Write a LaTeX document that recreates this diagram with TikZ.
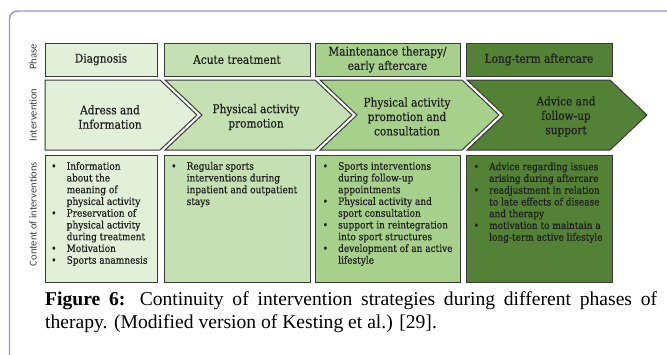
\documentclass[tikz,border=0pt]{standalone}
\usepackage{fontspec}
\setmainfont{Liberation Serif}
\newfontfamily\boxfont{DejaVu Serif}[FakeStretch=0.88,FakeBold=0.4]
\newfontfamily\sidefont{Carlito}
\definecolor{gA}{HTML}{E2EFD9}
\definecolor{gB}{HTML}{C5E0B3}
\definecolor{gC}{HTML}{A8D08D}
\definecolor{gD}{HTML}{538135}
\definecolor{frameC}{HTML}{9A96C4}
\definecolor{edgeC}{HTML}{3A3A3A}
\newcommand{\bul}{\makebox[15.5pt][l]{•}}
\newcommand{\ind}{\hspace*{15.5pt}}
\newcommand{\fl}{\rule{0pt}{8pt}}
\begin{document}
\begin{tikzpicture}[x=1pt,y=-1pt,
  phasebox/.style={draw=edgeC, line width=0.8pt, minimum width=#1, minimum height=33pt, inner sep=0pt,
    font=\boxfont\fontsize{12}{14.4}\selectfont, align=center, text=black!88},
  contbox/.style={draw=edgeC, line width=0.8pt, minimum width=#1, minimum height=127pt, inner sep=0pt},
  chev/.style={draw=edgeC, line width=1pt, line join=miter},
  chevtext/.style={font=\boxfont\fontsize{12}{14.4}\selectfont, align=center, text=black!88, inner sep=0pt},
  ctext/.style={font=\boxfont\fontsize{10.2}{11.75}\selectfont, align=left, anchor=north west, inner sep=0pt, text=black!88},
  sidelab/.style={font=\sidefont\fontsize{10.5}{12}\selectfont, rotate=90, text=black!75, inner sep=0pt},
  capline/.style={font=\fontsize{19.6}{23}\selectfont, anchor=base west, inner sep=0pt},
]
\useasboundingbox (0,0) rectangle (667,354);
% frame
\draw[frameC, line width=1.4pt, rounded corners=8pt] (668,11) -- (9.5,11) -- (9.5,356);

% side labels
\node[sidelab] (lphase) at (33,57) {Phase};
\node[sidelab] (linter) at (33,115) {Intervention};
\node[sidelab] (lcont) at (33,214) {Content of interventions};

% phase boxes
\node[phasebox=112pt, fill=gA] (p1) at (101,59.5) {Diagnosis};
\node[phasebox=146pt, fill=gB] (p2) at (237,59.5) {Acute treatment};
\node[phasebox=145pt, fill=gC] (p3) at (387.5,59.5) {Maintenance therapy/\\early aftercare};
\node[phasebox=146pt, fill=gD] (p4) at (539,59.5) {Long-term aftercare};

% chevrons
\draw[chev, fill=gA] (45,80) -- (160,80) -- (197,115) -- (160,150) -- (45,150) -- cycle;
\draw[chev, fill=gB] (165,80) -- (315,80) -- (352,115) -- (315,150) -- (165,150) -- (202,115) -- cycle;
\draw[chev, fill=gC] (320,80) -- (462,80) -- (499,115) -- (462,150) -- (320,150) -- (357,115) -- cycle;
\draw[chev, fill=gD] (467,80) -- (610,80) -- (647,115) -- (610,150) -- (467,150) -- (504,115) -- cycle;
\node[chevtext] (c1) at (110,117) {Adress and\\Information};
\node[chevtext] (c2) at (256,117) {Physical activity\\promotion};
\node[chevtext] (c3) at (407,116.5) {Physical activity\\promotion and\\consultation};
\node[chevtext] (c4) at (566,116.5) {Advice and\\follow-up\\support};

% content boxes
\node[contbox=112pt, fill=gA] (b1) at (101,218.5) {};
\node[contbox=146pt, fill=gB] (b2) at (237,218.5) {};
\node[contbox=145pt, fill=gC] (b3) at (387.5,218.5) {};
\node[contbox=146pt, fill=gD] (b4) at (539,218.5) {};

\node[ctext] (t1) at (51,161.5) {\fl\bul Information\\\ind about the\\\ind meaning of\\\ind physical activity\\\bul Preservation of\\\ind physical activity\\\ind during treatment\\\bul Motivation\\\bul Sports anamnesis};
\node[ctext] (t2) at (171,161.5) {\fl\bul Regular sports\\\ind interventions during\\\ind inpatient and outpatient\\\ind stays};
\node[ctext] (t3) at (322.5,161.5) {\fl\bul Sports interventions\\\ind during follow-up\\\ind appointments\\\bul Physical activity and\\\ind sport consultation\\\bul support in reintegration\\\ind into sport structures\\\bul development of an active\\\ind lifestyle};
\node[ctext] (t4) at (473.5,162) {\fl\bul Advice regarding issues\\\ind arising during aftercare\\\bul readjustment in relation\\\ind to late effects of disease\\\ind and therapy\\\bul motivation to maintain a\\\ind long-term active lifestyle};

% caption
\node[capline] (cap1) at (45,305) {\makebox[612pt][s]{\textbf{Figure 6:} Continuity of intervention strategies during different phases of}};
\node[capline] (cap2) at (45,328) {therapy. (Modified version of Kesting et al.) [29].};
\end{tikzpicture}
\end{document}
